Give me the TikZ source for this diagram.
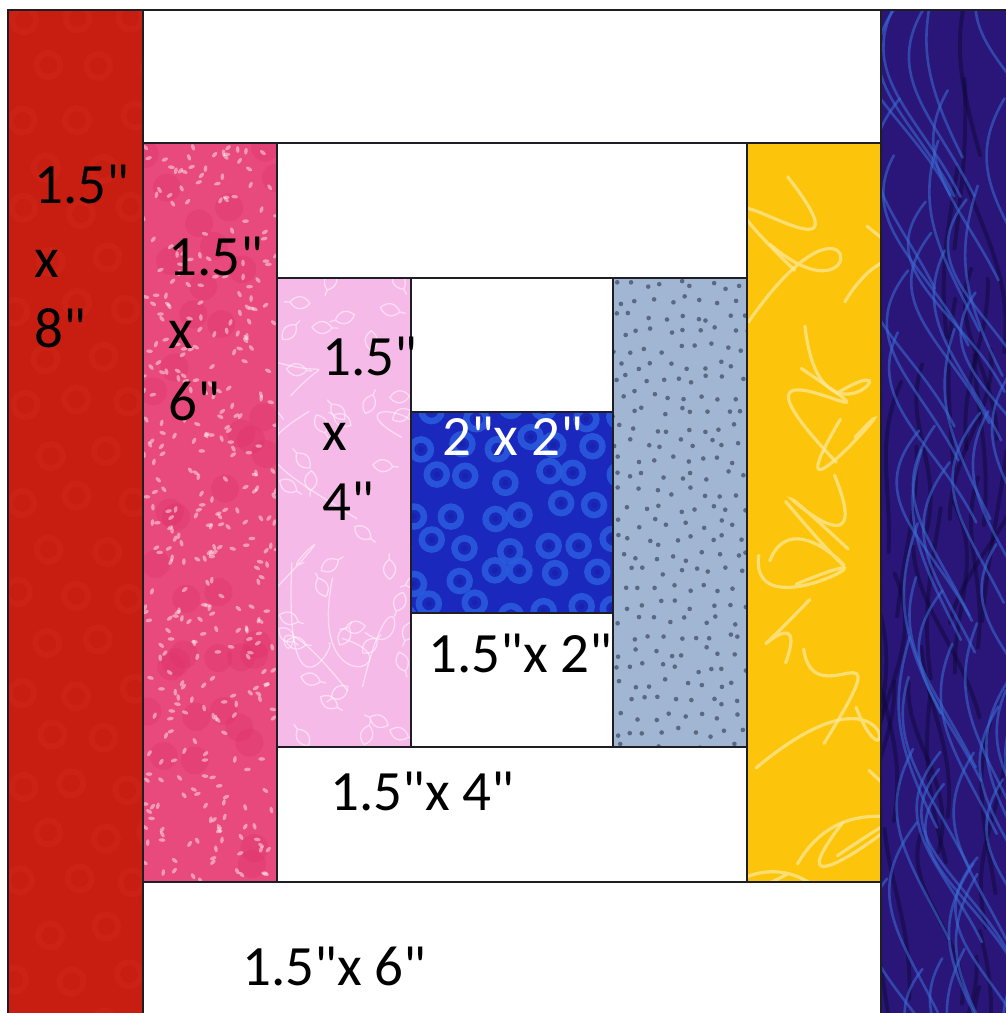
\documentclass[tikz,border=0pt]{standalone}
\usepackage{fontspec}
\setmainfont{Carlito}[Ligatures=TeXOff]
\definecolor{redbase}{RGB}{200,30,18}
\definecolor{redring}{RGB}{222,50,34}
\definecolor{pinkbase}{RGB}{232,74,126}
\definecolor{pinkdark}{RGB}{222,50,105}
\definecolor{lpinkbase}{RGB}{246,186,232}
\definecolor{bluebase}{RGB}{26,40,190}
\definecolor{bluering}{RGB}{42,92,222}
\definecolor{bluecenter}{RGB}{22,36,168}
\definecolor{greybase}{RGB}{160,182,210}
\definecolor{greydot}{RGB}{90,104,130}
\definecolor{yelbase}{RGB}{252,196,10}
\definecolor{yelline}{RGB}{253,232,150}
\definecolor{navybase}{RGB}{42,22,120}
\definecolor{navystreak}{RGB}{58,110,214}
\definecolor{navydark}{RGB}{16,8,58}
\definecolor{edgecol}{RGB}{30,30,36}
\begin{document}
\begin{tikzpicture}[x=1pt,y=-1pt]
\tikzset{
  edge/.style={draw=edgecol,line width=1.3pt},
  lbl/.style={font=\fontsize{57}{68}\selectfont,inner sep=0pt,anchor=base west,text=black},
  redr/.style={draw=redring,line width=6pt,opacity=0.2},
  fleck/.style={fill=white,opacity=0.45},
  pblot/.style={fill=pinkdark,opacity=0.35},
  leaf/.style={draw=white,line width=1.3pt,opacity=0.5},
  bring/.style={draw=bluering,line width=6.5pt,opacity=0.85},
  gdot/.style={fill=greydot},
  yline/.style={draw=yelline,line width=3.2pt,opacity=0.75,line cap=round},
  nstreak/.style={draw=navystreak,line width=2.6pt,opacity=0.55,line cap=round},
  ndark/.style={draw=navydark,line width=4pt,opacity=0.5,line cap=round}
}
\useasboundingbox (0,0) rectangle (1005,1013);
\fill[white] (0,0) rectangle (1005,1013);
\pgfmathsetseed{11}
% ---- red strip
\begin{scope}
\clip (8,10) rectangle (143,1020);
\fill[redbase] (8,10) rectangle (143,1020);
\foreach \r in {0,...,21}{
  \foreach \c in {0,...,2}{
    \pgfmathsetmacro\xx{20+\c*55+mod(\r,2)*27+6*rand}
    \pgfmathsetmacro\yy{20+\r*48+6*rand}
    \draw[redr] (\xx,\yy) circle (12pt);}}
\end{scope}
% ---- pink strip
\begin{scope}
\clip (143,143) rectangle (277,882);
\fill[pinkbase] (143,143) rectangle (277,882);
\foreach \i in {1,...,40}{
  \pgfmathsetmacro\xx{143+134*rnd}\pgfmathsetmacro\yy{143+739*rnd}
  \fill[pblot] (\xx,\yy) circle (14pt);}
\foreach \i in {1,...,380}{
  \pgfmathsetmacro\xx{143+134*rnd}\pgfmathsetmacro\yy{143+739*rnd}\pgfmathsetmacro\aa{180*rnd}
  \fill[fleck,rotate around={\aa:(\xx,\yy)}] (\xx,\yy) ellipse (3.4pt and 1.8pt);}
\end{scope}
% ---- light pink strip
\begin{scope}
\clip (277,278) rectangle (411,747);
\fill[lpinkbase] (277,278) rectangle (411,747);
\foreach \i in {1,...,9}{
  \pgfmathsetmacro\ax{277+134*rnd}\pgfmathsetmacro\ay{278+469*rnd}
  \pgfmathsetmacro\bx{\ax+80*rand}\pgfmathsetmacro\by{\ay+60*rand}
  \pgfmathsetmacro\cx{\ax+80*rand}\pgfmathsetmacro\cy{\ay+100*rand}
  \pgfmathsetmacro\dx{\ax+60*rand}\pgfmathsetmacro\dy{\ay+120*rand}
  \draw[leaf] (\ax,\ay) .. controls (\bx,\by) and (\cx,\cy) .. (\dx,\dy);}
\foreach \i in {1,...,40}{
  \pgfmathsetmacro\xx{277+134*rnd}\pgfmathsetmacro\yy{278+469*rnd}\pgfmathsetmacro\aa{360*rnd}
  \draw[leaf,rotate around={\aa:(\xx,\yy)}] (\xx,\yy) .. controls (\xx+6,\yy-8) and (\xx+14,\yy-8) .. (\xx+20,\yy) .. controls (\xx+14,\yy+8) and (\xx+6,\yy+8) .. (\xx,\yy) -- (\xx-6,\yy);}
\end{scope}
% ---- blue center
\begin{scope}
\clip (411,412) rectangle (613,613);
\fill[bluebase] (411,412) rectangle (613,613);
\foreach \r in {0,...,6}{
  \foreach \c in {0,...,6}{
    \pgfmathsetmacro\xx{400+\c*36+mod(\r,2)*18+9*rand}
    \pgfmathsetmacro\yy{412+\r*33+8*rand}
    \draw[bring] (\xx,\yy) circle (10pt);
    \fill[bluecenter] (\xx,\yy) circle (3pt);}}
\end{scope}
% ---- grey strip
\begin{scope}
\clip (613,278) rectangle (747,747);
\fill[greybase] (613,278) rectangle (747,747);
\foreach \r in {0,...,29}{
  \foreach \c in {0,...,8}{
    \pgfmathsetmacro\xx{614+\c*16+mod(\r,2)*8+5*rand}
    \pgfmathsetmacro\yy{284+\r*16+5*rand}
    \fill[gdot] (\xx,\yy) circle (2.3pt);}}
\end{scope}
% ---- yellow strip
\begin{scope}
\clip (747,143) rectangle (881,882);
\fill[yelbase] (747,143) rectangle (881,882);
\foreach \i in {0,...,15}{
  \pgfmathsetmacro\ax{747+134*rnd}\pgfmathsetmacro\ay{110+\i*50+20*rand}
  \pgfmathsetmacro\bx{\ax+170*rand}\pgfmathsetmacro\by{\ay+110+40*rand}
  \pgfmathsetmacro\cx{\ax+170*rand}\pgfmathsetmacro\cy{\ay-40+60*rand}
  \pgfmathsetmacro\dx{747+134*rnd}\pgfmathsetmacro\dy{\ay+50+50*rand}
  \draw[yline] (\ax,\ay) .. controls (\bx,\by) and (\cx,\cy) .. (\dx,\dy);}
\end{scope}
% ---- navy strip
\begin{scope}
\clip (881,10) rectangle (1010,1020);
\fill[navybase] (881,10) rectangle (1010,1020);
\foreach \i in {1,...,35}{
  \pgfmathsetmacro\ax{870+150*rnd}\pgfmathsetmacro\ay{-40+1060*rnd}
  \pgfmathsetmacro\bx{\ax+30*rand}\pgfmathsetmacro\dx{\ax+50*rand}
  \draw[ndark] (\ax,\ay) .. controls (\bx,\ay+60) and (\dx,\ay+100) .. (\dx+20*rand,\ay+170);}
\foreach \i in {1,...,55}{
  \pgfmathsetmacro\ax{870+150*rnd}\pgfmathsetmacro\ay{-40+1060*rnd}
  \pgfmathsetmacro\bx{\ax-40+20*rand}\pgfmathsetmacro\dx{\ax+10+30*rand}
  \draw[nstreak] (\ax,\ay) .. controls (\bx,\ay+70) and (\dx,\ay+110) .. (\dx+40,\ay+190);}
\end{scope}
% ---- outlines
\draw[edge] (8,10) rectangle (143,1020);
\draw[edge] (143,10) rectangle (881,143);
\draw[edge] (881,10) rectangle (1010,1020);
\draw[edge] (143,143) rectangle (277,882);
\draw[edge] (277,143) rectangle (747,278);
\draw[edge] (747,143) rectangle (881,882);
\draw[edge] (277,278) rectangle (411,747);
\draw[edge] (411,278) rectangle (613,412);
\draw[edge] (411,412) rectangle (613,613);
\draw[edge] (613,278) rectangle (747,747);
\draw[edge] (411,613) rectangle (613,747);
\draw[edge] (277,747) rectangle (747,882);
\draw[edge] (143,882) rectangle (881,1020);
% ---- labels
\node[lbl] (ra) at (34,203) {1.5"};
\node[lbl] (rb) at (34,277) {x};
\node[lbl] (rc) at (34,347) {8"};
\node[lbl] (pa) at (168,275) {1.5"};
\node[lbl] (pb) at (168,348) {x};
\node[lbl] (pc) at (168,420) {6"};
\node[lbl] (la) at (322,375) {1.5"};
\node[lbl] (lb) at (322,450) {x};
\node[lbl] (lc) at (322,520) {4"};
\node[lbl,text=white] (ctr) at (442,455) {2"x 2"};
\node[lbl] (w2) at (428,672) {1.5"x 2"};
\node[lbl] (w4) at (330,810) {1.5"x 4"};
\node[lbl] (w6) at (242,985) {1.5"x 6"};
\end{tikzpicture}
\end{document}
